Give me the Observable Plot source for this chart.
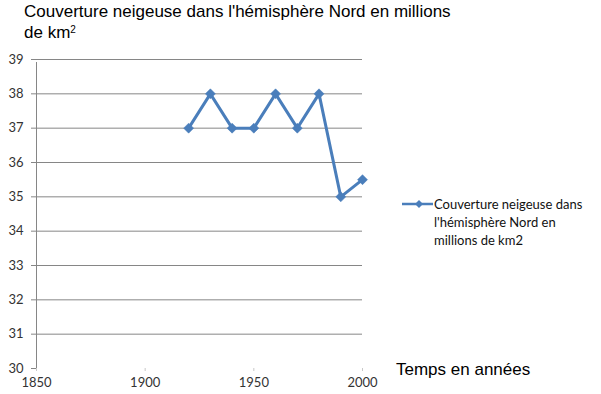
<!DOCTYPE html>
<html>
<head>
<meta charset="utf-8">
<script src="https://cdn.jsdelivr.net/npm/d3@7"></script>
<script src="https://cdn.jsdelivr.net/npm/@observablehq/plot@0.6"></script>
<style>
  html, body { margin: 0; padding: 0; background: #fff; }
  #wrap { position: relative; width: 601px; height: 394px; overflow: hidden; }
  .title { position: absolute; left: 24px; font-family: "Liberation Sans", Arial, sans-serif; font-size: 17px; line-height: 17px; color: #000; white-space: nowrap; }
  #t1 { top: 3px; }
  #t2 { top: 24px; }
  #t2 sup { font-size: 10px; line-height: 0; vertical-align: 5px; }
  #xlabel { position: absolute; left: 396px; top: 360px; font-family: "Liberation Sans", Arial, sans-serif; font-size: 17px; color: #000; }
  #legend { position: absolute; left: 402px; top: 195px; font-family: Lato, "Open Sans", sans-serif; font-size: 13px; line-height: 18px; color: #111; display: flex; }
  #legend svg { flex: none; }
  #chart { position: absolute; left: 0; top: 0; }
</style>
</head>
<body>
<div id="wrap">
  <div id="chart"></div>
  <div class="title" id="t1">Couverture neigeuse dans l'hémisphère Nord en millions</div>
  <div class="title" id="t2">de km<sup>2</sup></div>
  <div id="xlabel">Temps en années</div>
  <div id="legend"></div>
</div>
<script>
const years = [1920, 1930, 1940, 1950, 1960, 1970, 1980, 1990, 2000];
const snowCover = [37, 38, 37, 37, 38, 37, 38, 35, 35.5];
const xTicks = [1850, 1900, 1950, 2000];
const yTicks = [30, 31, 32, 33, 34, 35, 36, 37, 38, 39];
const seriesName = "Couverture neigeuse dans l'hémisphère Nord en millions de km2";
const legendLines = ["Couverture neigeuse dans", "l'hémisphère Nord en", "millions de km2"];

const data = years.map((year, i) => ({year, value: snowCover[i]}));
const blue = "#4A7EBB";
const gray = "#868686";

const chart = Plot.plot({
  width: 601,
  height: 394,
  marginLeft: 36,
  marginRight: 239,
  marginTop: 59,
  marginBottom: 26,
  style: {fontFamily: "Lato, 'Open Sans', sans-serif", fontSize: "13px", color: "#333", background: "transparent"},
  x: {domain: [xTicks[0], xTicks[xTicks.length - 1]]},
  y: {domain: [yTicks[0], yTicks[yTicks.length - 1]]},
  marks: [
    Plot.ruleY(yTicks.slice(1), {x1: xTicks[0], x2: xTicks[xTicks.length - 1], stroke: gray, strokeWidth: 1}),
    Plot.ruleX([xTicks[0]], {y1: yTicks[0], y2: yTicks[yTicks.length - 1], stroke: gray, strokeWidth: 1, insetBottom: -3}),
    Plot.axisY({ticks: yTicks, tickSize: 5, tickPadding: 8, stroke: gray, label: null, tickFormat: d => String(d)}),
    Plot.axisX({ticks: xTicks, tickSize: 3, tickPadding: 6, stroke: "#c8c8c8", label: null, tickFormat: d => String(d)}),
    Plot.line(data, {x: "year", y: "value", stroke: blue, strokeWidth: 3, strokeLinejoin: "round"}),
    Plot.dot(data, {x: "year", y: "value", symbol: "square", r: 4, rotate: 45, fill: blue, stroke: blue, strokeWidth: 0.5})
  ]
});
document.getElementById("chart").appendChild(chart);

const legend = document.getElementById("legend");
const sw = d3.create("svg").attr("width", 32).attr("height", 16);
sw.append("line").attr("x1", 0).attr("x2", 31).attr("y1", 9).attr("y2", 9).attr("stroke", blue).attr("stroke-width", 2.5);
sw.append("path").attr("d", "M17,5L21,9L17,13L13,9Z").attr("fill", blue);
legend.appendChild(sw.node());
const txt = document.createElement("div");
txt.title = seriesName;
txt.innerHTML = legendLines.join("<br>");
legend.appendChild(txt);
</script>
</body>
</html>
